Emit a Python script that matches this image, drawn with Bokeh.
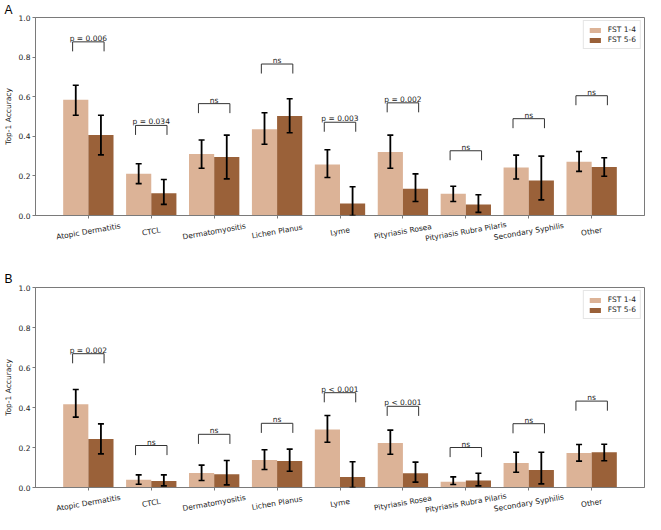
import math
from bokeh.plotting import figure
from bokeh.models import (ColumnDataSource, Whisker, TeeHead, FixedTicker,
                          PrintfTickFormatter, Range1d, Title)
from bokeh.layouts import column
from bokeh.embed import file_html
from bokeh.resources import INLINE

categories = ["Atopic Dermatitis", "CTCL", "Dermatomyositis", "Lichen Planus", "Lyme",
              "Pityriasis Rosea", "Pityriasis Rubra Pilaris", "Secondary Syphilis", "Other"]
series_names = ["FST 1-4", "FST 5-6"]

# Panel A
a_fst14 = [0.584, 0.211, 0.311, 0.435, 0.258, 0.321, 0.110, 0.242, 0.271]
a_fst14_lo = [0.506, 0.161, 0.239, 0.360, 0.192, 0.239, 0.071, 0.184, 0.223]
a_fst14_hi = [0.658, 0.261, 0.381, 0.519, 0.332, 0.406, 0.148, 0.305, 0.323]
a_fst56 = [0.406, 0.113, 0.295, 0.503, 0.061, 0.135, 0.056, 0.177, 0.245]
a_fst56_lo = [0.306, 0.056, 0.185, 0.418, 0.0, 0.071, 0.016, 0.079, 0.198]
a_fst56_hi = [0.506, 0.182, 0.406, 0.590, 0.145, 0.210, 0.105, 0.300, 0.292]
a_bracket = [0.877, 0.455, 0.565, 0.765, 0.471, 0.569, 0.327, 0.489, 0.605]
a_pvals = ["p = 0.006", "p = 0.034", "ns", "ns", "p = 0.003", "p = 0.002", "ns", "ns", "ns"]

# Panel B
b_fst14 = [0.416, 0.039, 0.072, 0.137, 0.290, 0.223, 0.029, 0.123, 0.173]
b_fst14_lo = [0.352, 0.016, 0.035, 0.090, 0.226, 0.166, 0.015, 0.076, 0.132]
b_fst14_hi = [0.490, 0.063, 0.112, 0.189, 0.360, 0.287, 0.053, 0.176, 0.215]
b_fst56 = [0.242, 0.032, 0.066, 0.132, 0.053, 0.071, 0.035, 0.087, 0.176]
b_fst56_lo = [0.168, 0.008, 0.013, 0.081, 0.0, 0.027, 0.008, 0.018, 0.134]
b_fst56_hi = [0.318, 0.063, 0.135, 0.192, 0.129, 0.127, 0.071, 0.176, 0.216]
b_bracket = [0.669, 0.210, 0.266, 0.321, 0.474, 0.406, 0.200, 0.319, 0.432]
b_pvals = ["p = 0.002", "ns", "ns", "ns", "p < 0.001", "p < 0.001", "ns", "ns", "ns"]

y_ticks = [0.0, 0.2, 0.4, 0.6, 0.8, 1.0]

LIGHT = "#dcb397"
DARK = "#9a6139"
SPINE = "#7a7a7a"
TXT = "#222222"
FONT = "DejaVu Sans"
FS = "7.5px"
W = 645
LEFT = 31
X_RANGE = (-0.84, 8.84)


def make_panel(letter, v14, lo14, hi14, v56, lo56, hi56, brk, pv, height, top, title_standoff):
    p = figure(width=W, height=height, output_backend="svg", toolbar_location=None,
               x_range=Range1d(*X_RANGE), y_range=Range1d(0, 1.0),
               min_border_left=LEFT, min_border_right=1, min_border_top=top,
               min_border_bottom=4)
    x = list(range(len(categories)))
    xl = [i - 0.2 for i in x]
    xd = [i + 0.2 for i in x]
    src = ColumnDataSource(dict(x=x, xl=xl, xd=xd, v14=v14, lo14=lo14, hi14=hi14,
                                v56=v56, lo56=lo56, hi56=hi56))
    p.vbar(x="xl", top="v14", width=0.4, source=src, fill_color=LIGHT, line_color=None,
           legend_label=series_names[0])
    p.vbar(x="xd", top="v56", width=0.4, source=src, fill_color=DARK, line_color=None,
           legend_label=series_names[1])
    for base, lo, hi in (("xl", "lo14", "hi14"), ("xd", "lo56", "hi56")):
        w = Whisker(base=base, lower=lo, upper=hi, source=src, line_color="black",
                    line_width=1.8, level="overlay",
                    upper_head=TeeHead(size=6, line_color="black", line_width=1.6),
                    lower_head=TeeHead(size=6, line_color="black", line_width=1.6))
        p.add_layout(w)
    drop = 0.048
    xs = [[i - 0.25, i - 0.25, i + 0.25, i + 0.25] for i in x]
    ys = [[h - drop, h, h, h - drop] for h in brk]
    p.multi_line(xs=xs, ys=ys, line_color="#333333", line_width=1)
    p.text(x=x, y=brk, text=pv, text_align="center", text_baseline="bottom",
           text_font_size=FS, text_font={"value": FONT}, text_color=TXT, y_offset=1)

    p.xgrid.visible = False
    p.ygrid.visible = False
    p.outline_line_color = SPINE
    p.outline_line_width = 1
    p.xaxis.ticker = FixedTicker(ticks=x)
    p.xaxis.major_label_text_color = None   # labels drawn centred in the strip below
    p.xaxis.major_label_standoff = 0
    p.yaxis.ticker = FixedTicker(ticks=y_ticks)
    p.yaxis.formatter = PrintfTickFormatter(format="%.1f")
    p.yaxis.axis_label = "Top-1 Accuracy"
    for ax in (p.xaxis, p.yaxis):
        ax.axis_line_color = SPINE
        ax.major_tick_line_color = SPINE
        ax.major_tick_out = 3
        ax.major_tick_in = 0
        ax.minor_tick_out = 0
        ax.minor_tick_in = 0
    p.yaxis.major_label_text_font = FONT
    p.yaxis.major_label_text_color = TXT
    p.yaxis.major_label_text_font_size = FS
    p.yaxis.major_label_standoff = 2
    p.yaxis.axis_label_text_font = FONT
    p.yaxis.axis_label_text_font_size = FS
    p.yaxis.axis_label_text_font_style = "normal"
    p.yaxis.axis_label_text_color = TXT
    p.yaxis.axis_label_standoff = 3

    p.legend.location = "top_right"
    p.legend.label_text_font = FONT
    p.legend.label_text_font_size = FS
    p.legend.label_text_color = TXT
    p.legend.glyph_width = 14
    p.legend.glyph_height = 6
    p.legend.label_height = 8
    p.legend.spacing = 1
    p.legend.padding = 4
    p.legend.margin = 3
    p.legend.label_standoff = 6
    p.legend.border_line_color = "#cccccc"
    p.legend.background_fill_alpha = 0.9

    p.title = Title(text=letter, align="left", offset=-LEFT, text_font_size="12px",
                    text_font_style="normal", text_font="Liberation Sans",
                    text_color="black", standoff=title_standoff)
    return p


def make_label_strip(height, offset):
    s = figure(width=W, height=height, output_backend="svg", toolbar_location=None,
               x_range=Range1d(*X_RANGE), y_range=Range1d(0, 1),
               x_axis_location=None, y_axis_location=None,
               min_border_left=LEFT, min_border_right=1, min_border_top=0,
               min_border_bottom=0)
    s.outline_line_color = None
    s.xgrid.visible = False
    s.ygrid.visible = False
    x = list(range(len(categories)))
    s.text(x=x, y=[1.0] * len(x), text=categories, angle=math.radians(10),
           text_align="center", text_baseline="middle", y_offset=offset,
           text_font_size=FS, text_font={"value": FONT}, text_color=TXT)
    return s


pa = make_panel("A", a_fst14, a_fst14_lo, a_fst14_hi, a_fst56, a_fst56_lo, a_fst56_hi,
                a_bracket, a_pvals, 219, 15, 1)
la = make_label_strip(24, 12)
pb = make_panel("B", b_fst14, b_fst14_lo, b_fst14_hi, b_fst56, b_fst56_lo, b_fst56_hi,
                b_bracket, b_pvals, 248, 44, 4)
lb = make_label_strip(23, 11.5)

layout = column(pa, la, pb, lb, spacing=0)
open("out.html", "w").write(file_html(layout, INLINE))
